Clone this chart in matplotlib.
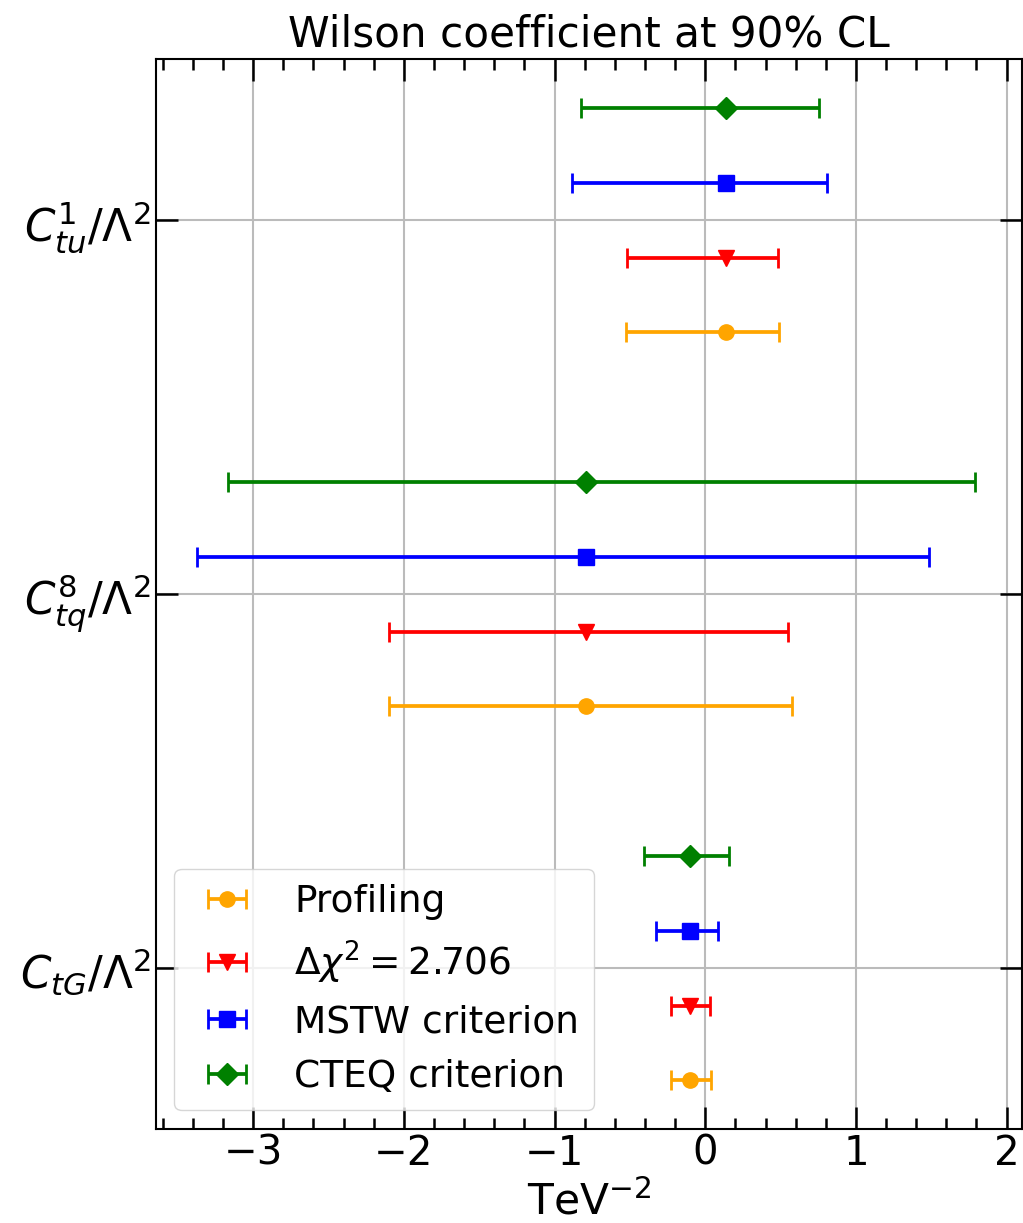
import numpy as np
import matplotlib
matplotlib.use("Agg")
import matplotlib.pyplot as plt
from matplotlib.ticker import MultipleLocator

# operators, bottom to top on the y axis
operators = [r"$C_{tG}/\Lambda^2$", r"$C^8_{tq}/\Lambda^2$", r"$C^1_{tu}/\Lambda^2$"]
central = [-0.102, -0.794, 0.137]

# 90% CL intervals (lower, upper) per method, same operator order
profiling_lo = [-0.230, -2.097, -0.528]
profiling_hi = [0.036, 0.575, 0.487]
dchi2_lo = [-0.230, -2.097, -0.522]
dchi2_hi = [0.031, 0.549, 0.480]
mstw_lo = [-0.327, -3.375, -0.883]
mstw_hi = [0.082, 1.484, 0.810]
cteq_lo = [-0.405, -3.169, -0.827]
cteq_hi = [0.157, 1.788, 0.752]

methods = [
    ("Profiling", profiling_lo, profiling_hi, "orange", "o", -0.3),
    (r"$\Delta\chi^2 = 2.706$", dchi2_lo, dchi2_hi, "red", "v", -0.1),
    ("MSTW criterion", mstw_lo, mstw_hi, "blue", "s", 0.1),
    ("CTEQ criterion", cteq_lo, cteq_hi, "green", "D", 0.3),
]

fig = plt.figure(figsize=(10.23, 12.23), dpi=100)
ax = fig.add_axes([0.1522, 0.0769, 0.8465, 0.8746])

ypos = np.arange(len(operators))
c = np.array(central)
for label, lo, hi, color, marker, shift in methods:
    xerr = [c - np.array(lo), np.array(hi) - c]
    ax.errorbar(c, ypos + shift, xerr=xerr, fmt=marker, color=color,
                markersize=11, elinewidth=2.7, capsize=7, capthick=2,
                label=label)

ax.set_xlim(-3.647, 2.10)
ax.set_ylim(-0.43, 2.43)
ax.set_yticks(ypos)
ax.set_yticklabels(operators)
ax.xaxis.set_major_locator(MultipleLocator(1))
ax.xaxis.set_minor_locator(MultipleLocator(0.2))

ax.tick_params(which="both", direction="in", top=True, right=True, width=1.8)
ax.tick_params(which="major", length=16, labelsize=29)
ax.tick_params(axis="y", which="major", labelsize=31.5)
ax.tick_params(which="minor", length=8)
ax.tick_params(axis="y", which="minor", left=False, right=False)
for sp in ax.spines.values():
    sp.set_linewidth(1.5)

ax.grid(True, color="#bbbbbb", linewidth=1.5)
ax.set_axisbelow(True)

ax.set_title("Wilson coefficient at 90% CL", fontsize=30.3, pad=9)
ax.set_xlabel(r"TeV$^{-2}$", fontsize=30.5, labelpad=5)
ax.legend(loc="lower left", fontsize=27)

fig.savefig("out.png", dpi=100)
